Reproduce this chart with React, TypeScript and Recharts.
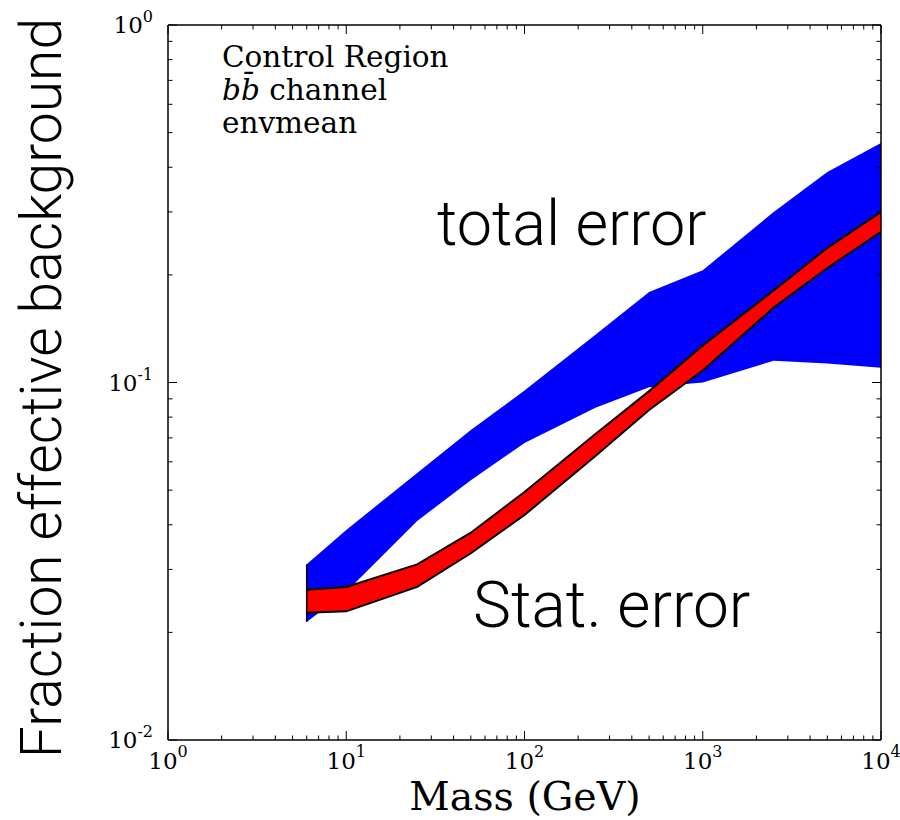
import React from 'react'
import { ComposedChart, Area, Line, XAxis, YAxis } from 'recharts'

// mass points (GeV)
const masses = [6, 10, 25, 50, 100, 250, 500, 1000, 2500, 5000, 10000]
// total error band (blue)
const totalLow = [0.0214, 0.026, 0.041, 0.0533, 0.0677, 0.085, 0.097, 0.1, 0.115, 0.113, 0.11]
const totalHigh = [0.031, 0.0387, 0.0558, 0.0736, 0.095, 0.136, 0.179, 0.206, 0.3, 0.388, 0.468]
// stat error band (red)
const statLow = [0.0227, 0.0229, 0.0268, 0.0333, 0.0426, 0.0623, 0.0838, 0.108, 0.162, 0.209, 0.264]
const statHigh = [0.0263, 0.0268, 0.031, 0.038, 0.0494, 0.0718, 0.0946, 0.127, 0.181, 0.238, 0.3]

const xMajor = [1, 10, 100, 1000, 10000]
const xExp = ['0', '1', '2', '3', '4']
const yMajor = [0.01, 0.1, 1]
const yExp = ['-2', '-1', '0']
const minorSteps = [2, 3, 4, 5, 6, 7, 8, 9]

const minors = (majors: number[]) =>
  majors.slice(0, -1).flatMap((m) => minorSteps.map((s) => m * s))
const xTicks = [...xMajor, ...minors(xMajor)]
const yTicks = [...yMajor, ...minors(yMajor)]

const data = masses.map((m, i) => ({
  m,
  total: [totalLow[i], totalHigh[i]],
  stat: [statLow[i], statHigh[i]],
}))

// left edge of the total band
const edge = [
  { m: masses[0], v: totalLow[0] },
  { m: masses[0], v: totalHigh[0] },
]

const serif = 'DejaVu Serif'
const sans = 'Roboto'

const XTick = ({ x, y, payload, side }: any) => {
  const idx = xMajor.indexOf(payload.value)
  const len = idx >= 0 ? 9 : 4.5
  const dir = side === 'bottom' ? -1 : 1
  return (
    <g>
      <line x1={x} y1={y} x2={x} y2={y + dir * len} stroke="#000" strokeWidth={1} />
      {side === 'bottom' && idx >= 0 && (
        <text x={x} y={y + 29} textAnchor="middle" fontFamily={serif} fontSize={23} fill="#000">
          10<tspan dy={-12} fontSize={16}>{xExp[idx]}</tspan>
        </text>
      )}
    </g>
  )
}

const YTick = ({ x, y, payload, side }: any) => {
  const idx = yMajor.findIndex((v) => Math.abs(v - payload.value) < 1e-9)
  const len = idx >= 0 ? 9 : 4.5
  const dir = side === 'left' ? 1 : -1
  return (
    <g>
      <line x1={x} y1={y} x2={x + dir * len} y2={y} stroke="#000" strokeWidth={1} />
      {side === 'left' && idx >= 0 && (
        <text x={x - 15} y={y + 8} textAnchor="end" fontFamily={serif} fontSize={23} fill="#000">
          10<tspan dy={-11} fontSize={16}>{yExp[idx]}</tspan>
        </text>
      )}
    </g>
  )
}

export default function App() {
  const axisLine = { stroke: '#000', strokeWidth: 1.5 }
  return (
    <div style={{ position: 'absolute', left: 0, top: 0, width: 900, height: 820, background: '#fff' }}>
      <ComposedChart
        width={900}
        height={820}
        data={data}
        margin={{ top: 15, right: 9, bottom: 40, left: 108 }}
      >
        <XAxis
          xAxisId="b"
          dataKey="m"
          type="number"
          scale="log"
          domain={[1, 10000]}
          ticks={xTicks}
          interval={0}
          height={40}
          tickSize={0}
          tickMargin={0}
          tickLine={false}
          axisLine={axisLine}
          allowDataOverflow
          tick={<XTick side="bottom" />}
        />
        <XAxis
          xAxisId="t"
          orientation="top"
          dataKey="m"
          type="number"
          scale="log"
          domain={[1, 10000]}
          ticks={xTicks}
          interval={0}
          height={10}
          tickSize={0}
          tickMargin={0}
          tickLine={false}
          axisLine={axisLine}
          allowDataOverflow
          tick={<XTick side="top" />}
        />
        <YAxis
          yAxisId="l"
          type="number"
          scale="log"
          domain={[0.01, 1]}
          ticks={yTicks}
          interval={0}
          width={60}
          tickSize={0}
          tickMargin={0}
          tickLine={false}
          axisLine={axisLine}
          allowDataOverflow
          tick={<YTick side="left" />}
        />
        <YAxis
          yAxisId="r"
          orientation="right"
          type="number"
          scale="log"
          domain={[0.01, 1]}
          ticks={yTicks}
          interval={0}
          width={10}
          tickSize={0}
          tickMargin={0}
          tickLine={false}
          axisLine={axisLine}
          allowDataOverflow
          tick={<YTick side="right" />}
        />
        <Area
          xAxisId="b"
          yAxisId="l"
          type="linear"
          dataKey="total"
          fill="#0000ff"
          fillOpacity={1}
          stroke="none"
          isAnimationActive={false}
        />
        <Line
          xAxisId="b"
          yAxisId="l"
          data={edge}
          dataKey="v"
          stroke="#000"
          strokeWidth={1.5}
          dot={false}
          isAnimationActive={false}
        />
        <Area
          xAxisId="b"
          yAxisId="l"
          type="linear"
          dataKey="stat"
          fill="#ff0000"
          fillOpacity={1}
          stroke="#000"
          strokeWidth={2}
          isAnimationActive={false}
        />
        <text x={222} y={67} fontFamily={serif} fontSize={29.5} fill="#000">Control Region</text>
        <text x={222} y={100} fontFamily={serif} fontSize={29.5} fill="#000">
          <tspan fontStyle="italic">b</tspan>
          <tspan fontStyle="italic">{'b\u0304'}</tspan> channel
        </text>
        <text x={222} y={133} fontFamily={serif} fontSize={29.5} fill="#000">envmean</text>
        <text x={437} y={245} fontFamily={sans} fontWeight={300} fontSize={63} fill="#000">total error</text>
        <text x={473} y={627} fontFamily={sans} fontWeight={300} fontSize={64} fill="#000">Stat. error</text>
        <text x={525} y={810} textAnchor="middle" fontFamily={serif} fontSize={39.5} fill="#000">Mass (GeV)</text>
        <text
          transform="translate(61, 388) rotate(-90)"
          textAnchor="middle"
          fontFamily={sans}
          fontWeight={300}
          fontSize={57}
          fill="#000"
        >
          Fraction effective background
        </text>
      </ComposedChart>
    </div>
  )
}
